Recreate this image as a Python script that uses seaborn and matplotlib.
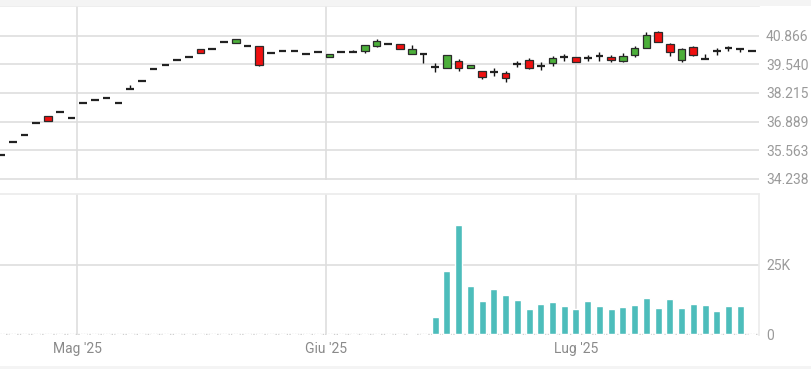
import numpy as np
import pandas as pd
import matplotlib
matplotlib.use("Agg")
import matplotlib.pyplot as plt
import seaborn as sns

# ---------------- data ----------------
dates = pd.bdate_range("2025-04-22", "2025-07-22")
dates = dates[dates != pd.Timestamp("2025-05-01")]

opens = [35.34, 35.93, 36.28, 36.84, 37.15, 37.35, 37.04, 37.75, 37.90, 37.97,
         37.75, 38.40, 38.78, 39.34, 39.51, 39.76, 39.87, 40.24, 40.24, 40.57,
         40.51, 40.40, 40.39, 40.05, 40.14, 40.16, 40.02, 40.10, 39.87, 40.10,
         40.11, 40.17, 40.40, 40.48, 40.48, 40.01, 40.01, 39.40, 39.38, 39.71,
         39.36, 39.25, 39.20, 39.13, 39.56, 39.73, 39.48, 39.59, 39.88, 39.87,
         39.83, 39.94, 39.87, 39.71, 39.97, 40.31, 41.02, 40.47, 39.74, 40.33,
         39.77, 40.16, 40.30, 40.25, 40.16]
highs = [35.34, 35.93, 36.28, 36.84, 37.15, 37.35, 37.04, 37.75, 37.90, 37.97,
         37.75, 38.58, 38.78, 39.34, 39.51, 39.76, 39.87, 40.24, 40.24, 40.64,
         40.70, 40.40, 40.39, 40.05, 40.14, 40.16, 40.02, 40.10, 40.02, 40.10,
         40.20, 40.42, 40.70, 40.48, 40.48, 40.44, 40.05, 39.59, 39.97, 39.77,
         39.51, 39.25, 39.36, 39.25, 39.71, 39.82, 39.63, 39.94, 40.01, 39.87,
         39.96, 40.13, 39.97, 40.05, 40.40, 41.02, 41.08, 40.51, 40.31, 40.38,
         40.01, 40.31, 40.40, 40.25, 40.16]
lows = [35.34, 35.93, 36.28, 36.84, 36.93, 37.35, 37.04, 37.75, 37.90, 37.97,
        37.75, 38.40, 38.78, 39.34, 39.51, 39.76, 39.87, 40.05, 40.24, 40.57,
        40.51, 40.40, 39.46, 40.05, 40.14, 40.16, 40.02, 40.10, 39.87, 40.10,
        40.11, 40.05, 40.34, 40.48, 40.24, 40.01, 39.62, 39.20, 39.38, 39.25,
        39.36, 38.86, 39.00, 38.74, 39.40, 39.32, 39.28, 39.48, 39.70, 39.66,
        39.70, 39.70, 39.66, 39.66, 39.89, 40.31, 40.59, 39.94, 39.63, 39.93,
        39.77, 39.97, 40.16, 40.10, 40.16]
closes = [35.34, 35.93, 36.28, 36.84, 36.93, 37.35, 37.04, 37.75, 37.90, 37.97,
          37.75, 38.40, 38.78, 39.34, 39.51, 39.76, 39.87, 40.05, 40.24, 40.57,
          40.70, 40.40, 39.51, 40.05, 40.14, 40.16, 40.02, 40.10, 40.02, 40.10,
          40.11, 40.42, 40.62, 40.48, 40.24, 40.24, 40.01, 39.40, 39.97, 39.37,
          39.51, 38.94, 39.20, 38.92, 39.56, 39.38, 39.48, 39.82, 39.88, 39.66,
          39.83, 39.94, 39.74, 39.94, 40.31, 40.90, 40.59, 40.13, 40.25, 39.97,
          39.77, 40.16, 40.30, 40.25, 40.16]
volumes_k = [0, 0, 0, 0, 0, 0, 0, 0, 0, 0,
             0, 0, 0, 0, 0, 0, 0, 0, 0, 0,
             0, 0, 0, 0, 0, 0, 0, 0, 0, 0,
             0, 0, 0, 0, 0, 0.4, 0, 6.1, 22.8, 39.5,
             17.2, 12.0, 16.3, 14.1, 12.4, 9.2, 10.8, 11.5, 10.1, 8.9,
             12.0, 10.0, 8.9, 9.7, 10.5, 13.2, 9.6, 12.5, 9.4, 10.9,
             10.5, 8.4, 10.1, 10.1, 0]

price_ticks = [34.238, 35.563, 36.889, 38.215, 39.540, 40.866]
price_tick_labels = ["34.238", "35.563", "36.889", "38.215", "39.540", "40.866"]
vol_ticks = [0, 25000]
vol_tick_labels = ["0", "25K"]
month_starts = ["2025-05-01", "2025-06-01", "2025-07-01"]
month_labels = ["Mag '25", "Giu '25", "Lug '25"]

# ---------------- style ----------------
sns.set_theme(style="white")
plt.rcParams["font.family"] = ["Roboto", "DejaVu Sans"]

GRID = "#dedede"
TXT = "#9a9a9a"
RED = "#f01010"
GREEN = "#4caf3a"
EDGE = "#2a2a2a"
TEAL = "#4dbdbb"

n = len(opens)
pos = np.arange(n)
o = np.array(opens); h = np.array(highs); l = np.array(lows); c = np.array(closes)
vol = np.array(volumes_k) * 1000

date_num = dates.map(pd.Timestamp.toordinal).to_numpy()
month_pos = np.interp([pd.Timestamp(m).toordinal() for m in month_starts], date_num, pos)

fig = plt.figure(figsize=(8.12, 3.69), dpi=100, facecolor="white")
W, H = 812, 369
fig.patches.append(plt.Rectangle((0, 1 - 6 / H), 1, 6 / H, transform=fig.transFigure,
                                 facecolor="#f4f4f4", edgecolor="none", zorder=0))
fig.patches.append(plt.Rectangle((0, 0), 1, 3 / H, transform=fig.transFigure,
                                 facecolor="#f4f4f4", edgecolor="none", zorder=0))

ax_p = fig.add_axes([0, 1 - 180 / H, 759 / W, 174 / H])
ax_v = fig.add_axes([0, 1 - 335 / H, 759 / W, 141 / H])

xlim = (-0.09, 64.6)
for ax in (ax_p, ax_v):
    ax.set_xlim(*xlim)
    ax.set_facecolor("white")
    for s in ax.spines.values():
        s.set_visible(False)
    for mp in month_pos:
        ax.axvline(mp, color=GRID, lw=1.2, zorder=0)
    ax.yaxis.tick_right()
    ax.tick_params(axis="both", length=0, colors=TXT, labelsize=10)

# price panel
ax_p.set_ylim(34.186, 42.24)
for t in price_ticks:
    ax_p.axhline(t, color=GRID, lw=1.2, zorder=0)
ax_p.set_yticks(price_ticks)
ax_p.set_yticklabels(price_tick_labels)
ax_p.tick_params(axis="y", pad=5)
ax_p.set_xticks([])
ax_p.spines["top"].set_visible(True)
ax_p.spines["top"].set_color("#ececec")

bw = 0.65
ax_p.vlines(pos, l, h, color="#111111", lw=1.0, zorder=2)
up = c > o
down = c < o
flat = c == o
ax_p.bar(pos[up], (c - o)[up], bottom=o[up], width=bw, color=GREEN,
         edgecolor=EDGE, linewidth=0.9, zorder=3)
ax_p.bar(pos[down], (o - c)[down], bottom=c[down], width=bw, color=RED,
         edgecolor=EDGE, linewidth=0.9, zorder=3)
ax_p.hlines(o[flat], pos[flat] - bw / 2, pos[flat] + bw / 2, color="#222222",
            lw=1.6, zorder=3)

# volume panel
vdf = pd.DataFrame({"pos": pos, "vol": vol})
sns.barplot(data=vdf, x="pos", y="vol", native_scale=True, width=0.6,
            color=TEAL, saturation=1, ax=ax_v, zorder=3)
ax_v.set_xlim(*xlim)
ax_v.set_ylim(-300, 50500)
ax_v.axhline(25000, color=GRID, lw=1.2, zorder=0)
ax_v.axhline(0, color="#cfcfcf", lw=1.0, ls=(0, (1, 1)), zorder=1)
ax_v.set_yticks(vol_ticks)
ax_v.set_yticklabels(vol_tick_labels)
ax_v.tick_params(axis="y", pad=5)
ax_v.set_xticks(month_pos)
ax_v.set_xticklabels(month_labels)
ax_v.tick_params(axis="x", pad=5, colors="#8a8a8a")
ax_v.set_xlabel("")
ax_v.set_ylabel("")
ax_v.spines["top"].set_visible(True)
ax_v.spines["top"].set_color("#ececec")
ax_v.spines["right"].set_visible(True)
ax_v.spines["right"].set_color("#ececec")
ax_v.spines["right"].set_linestyle((0, (1, 1)))

fig.savefig("out.png", dpi=100, facecolor="white")
